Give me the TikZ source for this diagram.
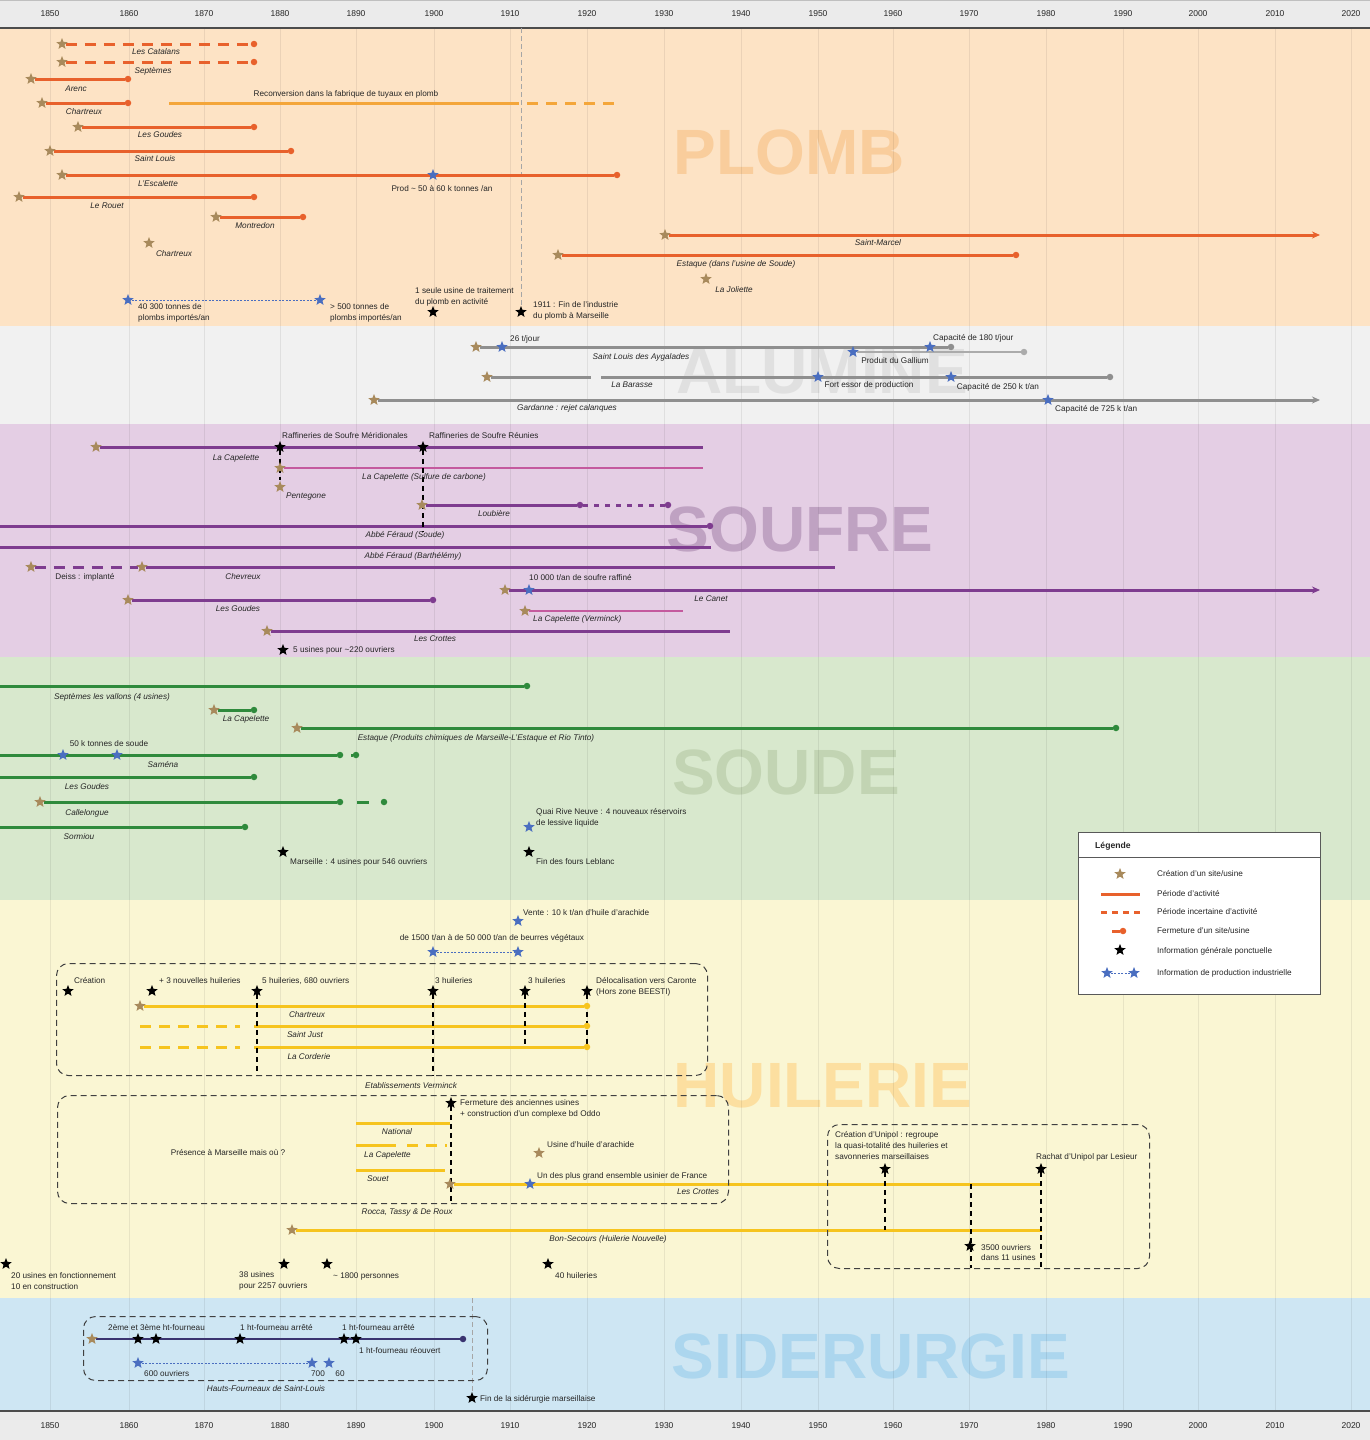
\documentclass[tikz,border=0pt]{standalone}
\usepackage{fontspec}
\setmainfont{Liberation Sans}
\usetikzlibrary{shapes.geometric,arrows.meta}
\pgfdeclarelayer{bg}\pgfdeclarelayer{lns}
\pgfsetlayers{bg,lns,main}
\definecolor{bgAx}{HTML}{EBEBEB}
\definecolor{bgPl}{HTML}{FDE3C5}
\definecolor{bgAl}{HTML}{F1F1F1}
\definecolor{bgSf}{HTML}{E4CEE4}
\definecolor{bgSd}{HTML}{D8E8CD}
\definecolor{bgHu}{HTML}{FAF6D3}
\definecolor{bgSi}{HTML}{CEE6F3}
\definecolor{wmPl}{HTML}{F9CD9C}
\definecolor{wmAl}{HTML}{E0E0E0}
\definecolor{wmSf}{HTML}{BFA2C2}
\definecolor{wmSd}{HTML}{C2D4B3}
\definecolor{wmHu}{HTML}{FCDFA0}
\definecolor{wmSi}{HTML}{ACD6EE}
\definecolor{cPl}{HTML}{E8612C}
\definecolor{cRe}{HTML}{F4A63A}
\definecolor{cAl}{HTML}{8F8F8F}
\definecolor{cAlb}{HTML}{ABABAB}
\definecolor{cSf}{HTML}{7E3C8F}
\definecolor{cPk}{HTML}{C45A9E}
\definecolor{cSd}{HTML}{2F8A3C}
\definecolor{cHu}{HTML}{F6C41E}
\definecolor{cSi}{HTML}{3A3470}
\definecolor{cStar}{HTML}{A88A5C}
\definecolor{cBlue}{HTML}{4A6EC0}
\begin{document}
\begin{tikzpicture}[x=1pt,y=-1pt,
 T/.style={font=\fontsize{8.2}{10.8}\selectfont, inner sep=0pt, text=black!85},
 I/.style={T, font=\fontsize{8.2}{10.8}\selectfont\itshape},
 stbase/.style={star, star points=5, star point ratio=2.3, minimum size=12pt, inner sep=0pt, draw=none},
 sC/.style={stbase, fill=cStar},
 sB/.style={stbase, fill=cBlue},
 sK/.style={stbase, fill=black},
 dotn/.style={circle, fill=#1, minimum size=6.5pt, inner sep=0pt},
 ln/.style={draw=#1, line width=3pt},
 dl/.style={draw=#1, line width=3pt, dash pattern=on 11pt off 8pt},
 dd/.style={draw=#1, line width=3pt, dash pattern=on 5pt off 6pt},
 bd/.style={draw=cBlue, line width=0.8pt, dash pattern=on 2pt off 1.5pt},
 gd/.style={draw=black!35, line width=0.6pt, dash pattern=on 5pt off 3pt},
 vd/.style={draw=black, line width=1.8pt, dash pattern=on 5pt off 4pt},
 dbox/.style={rectangle, draw=black!75, line width=1pt, dash pattern=on 6pt off 4pt, rounded corners=12pt, inner sep=0pt, anchor=north west},
 wm/.style={font=\fontsize{64}{64}\selectfont\bfseries, inner sep=0pt},
 ar/.style={-{Stealth[length=8pt,width=7pt]}}
]
\useasboundingbox (0,0) rectangle (1370,1440);
\begin{pgfonlayer}{bg}
\fill[bgAx] (0,0) rectangle (1370,28);
\fill[bgPl] (0,28) rectangle (1370,326);
\fill[bgAl] (0,326) rectangle (1370,424);
\fill[bgSf] (0,424) rectangle (1370,657);
\fill[bgSd] (0,657) rectangle (1370,900);
\fill[bgHu] (0,900) rectangle (1370,1298);
\fill[bgSi] (0,1298) rectangle (1370,1411);
\fill[bgAx] (0,1411) rectangle (1370,1440);
\node[wm,text=wmPl] (w1) at (789,152) {PLOMB};
\node[wm,text=wmAl] (w2) at (822,372) {ALUMINE};
\node[wm,text=wmSf] (w3) at (800,529) {SOUFRE};
\node[wm,text=wmSd] (w4) at (786,772) {SOUDE};
\node[wm,text=wmHu] (w5) at (823,1086) {HUILERIE};
\node[wm,text=wmSi] (w6) at (871,1356) {SIDERURGIE};
\foreach \x in {50,129,204,280,356,434,510,587,664,741,818,893,969,1046,1123,1198,1275,1351}
  \draw[black,opacity=0.07,line width=0.8pt] (\x,28) -- (\x,1411);
\draw[black!70,line width=1.4pt] (0,28) -- (1370,28);
\draw[black!70,line width=1.4pt] (0,1411) -- (1370,1411);
\draw[black!25,line width=0.8pt] (0,0.5) -- (1370,0.5);
\node[rectangle, draw=black!65, fill=white, line width=0.8pt, minimum width=242pt, minimum height=162pt, anchor=north west, inner sep=0pt] (leg) at (1078,832) {};
\end{pgfonlayer}
\foreach \yr/\x in {1850/50,1860/129,1870/204,1880/280,1890/356,1900/434,1910/510,1920/587,1930/664,1940/741,1950/818,1960/893,1970/969,1980/1046,1990/1123,2000/1198,2010/1275,2020/1351}{
  \node[T,font=\fontsize{8.5}{9}\selectfont] (ta\yr) at (\x,14) {\yr};
  \node[T,font=\fontsize{8.5}{9}\selectfont] (tb\yr) at (\x,1426) {\yr};
}
% ================= PLOMB
\node[sC] (p1) at (62,44) {};
\node[dotn=cPl] (p1e) at (254,44) {};
\node[I] (p1l) at (156,52) {Les Catalans};
\node[sC] (p2) at (62,62) {};
\node[dotn=cPl] (p2e) at (254,62) {};
\node[I] (p2l) at (153,71) {Septèmes};
\node[sC] (p3) at (31,79) {};
\node[dotn=cPl] (p3e) at (128,79) {};
\node[I] (p3l) at (76,89) {Arenc};
\node[sC] (p4) at (42,103) {};
\node[dotn=cPl] (p4e) at (128,103) {};
\node[I] (p4l) at (84,112) {Chartreux};
\coordinate (r1) at (169,103); \coordinate (r2) at (508,103); \coordinate (r3) at (616,103);
\node[T] (rl) at (346,94) {Reconversion dans la fabrique de tuyaux en plomb};
\node[sC] (p5) at (78,127) {};
\node[dotn=cPl] (p5e) at (254,127) {};
\node[I] (p5l) at (160,135) {Les Goudes};
\node[sC] (p6) at (50,151) {};
\node[dotn=cPl] (p6e) at (291,151) {};
\node[I] (p6l) at (155,159) {Saint Louis};
\node[sC] (p7) at (62,175) {};
\node[sB] (p7b) at (433,175) {};
\node[dotn=cPl] (p7e) at (617,175) {};
\node[I] (p7l) at (158,184) {L'Escalette};
\node[T] (p7t) at (442,189) {Prod \textasciitilde{} 50 à 60 k tonnes /an};
\node[sC] (p8) at (19,197) {};
\node[dotn=cPl] (p8e) at (254,197) {};
\node[I] (p8l) at (107,206) {Le Rouet};
\node[sC] (p9) at (216,217) {};
\node[dotn=cPl] (p9e) at (303,217) {};
\node[I] (p9l) at (255,226) {Montredon};
\node[sC] (p10) at (149,243) {};
\node[I] (p10l) at (174,254) {Chartreux};
\node[sC] (p11) at (665,235) {};
\coordinate (p11e) at (1320,235);
\node[I] (p11l) at (878,243) {Saint-Marcel};
\node[sC] (p12) at (558,255) {};
\node[dotn=cPl] (p12e) at (1016,255) {};
\node[I] (p12l) at (736,264) {Estaque (dans l'usine de Soude)};
\node[sC] (p13) at (706,279) {};
\node[I] (p13l) at (734,290) {La Joliette};
\node[sB] (p14) at (128,300) {};
\node[sB] (p15) at (320,300) {};
\node[T,anchor=west,align=left] (p14l) at (138,312.5) {40 300 tonnes de\\plombs importés/an};
\node[T,anchor=west,align=left] (p15l) at (330,312.5) {> 500 tonnes de\\plombs importés/an};
\node[sK] (p16) at (433,312) {};
\node[T,anchor=west,align=left] (p16l) at (415,297) {1 seule usine de traitement\\du plomb en activité};
\node[sK] (p17) at (521,312) {};
\coordinate (pv) at (521,28);
\node[T,anchor=west,align=left] (p17l) at (533,311) {1911 : Fin de l'industrie\\du plomb à Marseille};
% ================= ALUMINE
\node[sC] (a1) at (476,347) {};
\node[sB] (a1b) at (502,347) {};
\node[sB] (a1c) at (930,347) {};
\node[dotn=cAl] (a1e) at (951,347) {};
\node[T,anchor=west] (a1t) at (510,339) {26 t/jour};
\node[T,anchor=west] (a1u) at (933,338) {Capacité de 180 t/jour};
\node[I] (a1l) at (641,357) {Saint Louis des Aygalades};
\node[sB] (a2) at (853,352) {};
\node[dotn=cAlb] (a2e) at (1024,352) {};
\node[T] (a2l) at (895,361) {Produit du Gallium};
\node[sC] (a3) at (487,377) {};
\coordinate (a3m) at (591,377); \coordinate (a3n) at (601,377);
\node[sB] (a3b) at (818,377) {};
\node[sB] (a3c) at (951,377) {};
\node[dotn=cAl] (a3e) at (1110,377) {};
\node[I] (a3l) at (632,385) {La Barasse};
\node[T] (a3t) at (869,385) {Fort essor de production};
\node[T] (a3u) at (998,387) {Capacité de 250 k t/an};
\node[sC] (a4) at (374,400) {};
\node[sB] (a4b) at (1048,400) {};
\coordinate (a4e) at (1320,400);
\node[I] (a4l) at (567,408) {Gardanne : rejet calanques};
\node[T,anchor=west] (a4t) at (1055,409) {Capacité de 725 k t/an};
% ================= SOUFRE
\node[sC] (s1) at (96,447) {};
\node[sK] (s1a) at (280,447) {};
\node[sK] (s1b) at (423,447) {};
\coordinate (s1e) at (703,447);
\coordinate (s1v) at (423,532);
\node[T,anchor=west] (s1t) at (282,436) {Raffineries de Soufre Méridionales};
\node[T,anchor=west] (s1u) at (429,436) {Raffineries de Soufre Réunies};
\node[I] (s1l) at (236,458) {La Capelette};
\node[sC] (s2) at (280,468) {};
\coordinate (s2e) at (703,468);
\node[I] (s2l) at (424,477) {La Capelette (Sulfure de carbone)};
\node[sC] (s3) at (280,487) {};
\node[I] (s3l) at (306,497) {Pentegone};
\node[sC] (s4) at (422,505) {};
\node[dotn=cSf] (s4m) at (580,505) {};
\node[dotn=cSf] (s4e) at (668,505) {};
\node[I] (s4l) at (494,514) {Loubière};
\coordinate (s5a) at (0,526);
\node[dotn=cSf] (s5e) at (710,526) {};
\node[I] (s5l) at (405,535) {Abbé Féraud (Soude)};
\coordinate (s6a) at (0,547); \coordinate (s6e) at (711,547);
\node[I] (s6l) at (413,556) {Abbé Féraud (Barthélémy)};
\node[sC] (s7) at (31,567) {};
\node[sC] (s7b) at (142,567) {};
\coordinate (s7e) at (835,567);
\node[T] (s7l) at (85,577) {Deiss : implanté};
\node[I] (s7m) at (243,577) {Chevreux};
\node[sC] (s8) at (505,590) {};
\node[sB] (s8b) at (529,590) {};
\coordinate (s8e) at (1320,590);
\node[T,anchor=west] (s8t) at (529,578) {10 000 t/an de soufre raffiné};
\node[I] (s8l) at (711,599) {Le Canet};
\node[sC] (s9) at (128,600) {};
\node[dotn=cSf] (s9e) at (433,600) {};
\node[I] (s9l) at (238,609) {Les Goudes};
\node[sC] (s10) at (525,611) {};
\coordinate (s10e) at (683,611);
\node[I,anchor=west] (s10l) at (533,619) {La Capelette (Verminck)};
\node[sC] (s11) at (267,631) {};
\coordinate (s11e) at (730,631);
\node[I] (s11l) at (435,639) {Les Crottes};
\node[sK] (s12) at (283,650) {};
\node[T,anchor=west] (s12l) at (293,650) {5 usines pour \textasciitilde{}220 ouvriers};
% ================= SOUDE
\coordinate (d1a) at (0,686);
\node[dotn=cSd] (d1e) at (527,686) {};
\node[I] (d1l) at (112,697) {Septèmes les vallons (4 usines)};
\node[sC] (d2) at (214,710) {};
\node[dotn=cSd] (d2e) at (254,710) {};
\node[I] (d2l) at (246,719) {La Capelette};
\node[sC] (d3) at (297,728) {};
\node[dotn=cSd] (d3e) at (1116,728) {};
\node[I] (d3l) at (476,738) {Estaque (Produits chimiques de Marseille-L'Estaque et Rio Tinto)};
\coordinate (d4a) at (0,755);
\node[sB] (d4b) at (63,755) {};
\node[sB] (d4c) at (117,755) {};
\node[dotn=cSd] (d4e) at (340,755) {};
\coordinate (d4f) at (351,755);
\node[dotn=cSd] (d4g) at (356,755) {};
\node[T] (d4t) at (109,744) {50 k tonnes de soude};
\node[I] (d4l) at (163,765) {Saména};
\coordinate (d5a) at (0,777);
\node[dotn=cSd] (d5e) at (254,777) {};
\node[I] (d5l) at (87,787) {Les Goudes};
\node[sC] (d6) at (40,802) {};
\node[dotn=cSd] (d6e) at (340,802) {};
\coordinate (d6f) at (357,802); \coordinate (d6g) at (369,802);
\node[dotn=cSd] (d6h) at (384,802) {};
\node[I] (d6l) at (87,813) {Callelongue};
\coordinate (d7a) at (0,827);
\node[dotn=cSd] (d7e) at (245,827) {};
\node[I] (d7l) at (79,837) {Sormiou};
\node[sB] (d8) at (529,827) {};
\node[T,anchor=west,align=left] (d8l) at (536,817.5) {Quai Rive Neuve : 4 nouveaux réservoirs\\de lessive liquide};
\node[sK] (d9) at (283,852) {};
\node[T,anchor=west] (d9l) at (290,862) {Marseille : 4 usines pour 546 ouvriers};
\node[sK] (d10) at (529,852) {};
\node[T,anchor=west] (d10l) at (536,862) {Fin des fours Leblanc};
% ================= LEGENDE
\coordinate (lga) at (1078,857); \coordinate (lgb) at (1320,857);
\node[T,font=\fontsize{8.6}{9}\selectfont\bfseries,anchor=west] (legt) at (1095,846) {Légende};
\node[sC] (lg1) at (1120,874) {};
\coordinate (lg2a) at (1101,894); \coordinate (lg2b) at (1140,894);
\coordinate (lg3a) at (1101,912); \coordinate (lg3b) at (1140,912);
\coordinate (lg4a) at (1112,931);
\node[dotn=cPl] (lg4) at (1123,931) {};
\node[sK] (lg5) at (1120,950) {};
\node[sB] (lg6a) at (1107,973) {};
\node[sB] (lg6b) at (1134,973) {};
\node[T,anchor=west] (lt1) at (1157,874) {Création d'un site/usine};
\node[T,anchor=west] (lt2) at (1157,894) {Période d'activité};
\node[T,anchor=west] (lt3) at (1157,912) {Période incertaine d'activité};
\node[T,anchor=west] (lt4) at (1157,931) {Fermeture d'un site/usine};
\node[T,anchor=west] (lt5) at (1157,951) {Information générale ponctuelle};
\node[T,anchor=west] (lt6) at (1157,973) {Information de production industrielle};
% ================= HUILERIE
\node[sB] (h1) at (518,921) {};
\node[T,anchor=west] (h1l) at (523,913) {Vente : 10 k t/an d'huile d'arachide};
\node[sB] (h2) at (433,952) {};
\node[sB] (h2b) at (518,952) {};
\node[T] (h2l) at (492,938) {de 1500 t/an à de 50 000 t/an de beurres végétaux};
\node[dbox, minimum width=651pt, minimum height=112pt] (hb1) at (56,963) {};
\node[I] (hb1l) at (411,1086) {Etablissements Verminck};
\node[sK] (h3) at (68,991) {};
\node[sK] (h4) at (152,991) {};
\node[sK] (h5) at (257,991) {};
\node[sK] (h6) at (433,991) {};
\node[sK] (h7) at (525,991) {};
\node[sK] (h8) at (587,991) {};
\coordinate (h5v) at (257,1075); \coordinate (h6v) at (433,1075); \coordinate (h7v) at (525,1046);
\node[T,anchor=west] (h3l) at (74,981) {Création};
\node[T,anchor=west] (h4l) at (159,981) {+ 3 nouvelles huileries};
\node[T,anchor=west] (h5l) at (262,981) {5 huileries, 680 ouvriers};
\node[T,anchor=west] (h6l) at (435,981) {3 huileries};
\node[T,anchor=west] (h7l) at (528,981) {3 huileries};
\node[T,anchor=west,align=left] (h8l) at (596,987) {Délocalisation vers Caronte\\(Hors zone BEESTI)};
\node[sC] (h9) at (140,1006) {};
\node[dotn=cHu] (h9e) at (587,1006) {};
\node[I] (h9l) at (307,1015) {Chartreux};
\coordinate (h10a) at (140,1026); \coordinate (h10b) at (240,1026); \coordinate (h10c) at (254,1026);
\node[dotn=cHu] (h10e) at (587,1026) {};
\node[I] (h10l) at (305,1035) {Saint Just};
\coordinate (h11a) at (140,1047); \coordinate (h11b) at (240,1047); \coordinate (h11c) at (254,1047);
\node[dotn=cHu] (h11e) at (587,1047) {};
\node[I] (h11l) at (309,1057) {La Corderie};
\node[dbox, minimum width=671pt, minimum height=108pt] (hb2) at (57,1095) {};
\node[I] (hb2l) at (407,1212) {Rocca, Tassy \& De Roux};
\node[T] (h12) at (228,1153) {Présence à Marseille mais où ?};
\coordinate (h13a) at (356,1123); \coordinate (h13b) at (450,1123);
\node[I] (h13l) at (397,1132) {National};
\coordinate (h14a) at (356,1145); \coordinate (h14b) at (396,1145); \coordinate (h14c) at (407,1145); \coordinate (h14d) at (447,1145);
\node[I,anchor=west] (h14l) at (364,1155) {La Capelette};
\coordinate (h15a) at (356,1170); \coordinate (h15b) at (445,1170);
\node[I,anchor=west] (h15l) at (367,1179) {Souet};
\node[sK] (h16) at (451,1103) {};
\coordinate (h16v) at (451,1203);
\node[T,anchor=west,align=left] (h16l) at (460,1108.5) {Fermeture des anciennes usines\\+ construction d'un complexe bd Oddo};
\node[sC] (h17) at (539,1153) {};
\node[T,anchor=west] (h17l) at (547,1145) {Usine d'huile d'arachide};
\node[sC] (h18) at (450,1184) {};
\node[sB] (h18b) at (530,1184) {};
\coordinate (h18e) at (1042,1184);
\node[T,anchor=west] (h18t) at (537,1176) {Un des plus grand ensemble usinier de France};
\node[I] (h18l) at (698,1192) {Les Crottes};
\node[sC] (h19) at (292,1230) {};
\coordinate (h19e) at (1042,1230);
\node[I] (h19l) at (608,1239) {Bon-Secours (Huilerie Nouvelle)};
\node[dbox, minimum width=322pt, minimum height=144pt] (hb3) at (827,1124) {};
\node[T,anchor=west,align=left] (h20l) at (835,1145.5) {Création d'Unipol : regroupe\\la quasi-totalité des huileries et\\savonneries marseillaises};
\node[sK] (h20) at (885,1169) {};
\coordinate (h20v) at (885,1230);
\node[T,anchor=west] (h21l) at (1036,1157) {Rachat d'Unipol par Lesieur};
\node[sK] (h21) at (1041,1169) {};
\coordinate (h21v) at (1041,1268);
\coordinate (h22a) at (971,1184); \coordinate (h22b) at (971,1268);
\node[sK] (h22) at (970,1246) {};
\node[T,anchor=west,align=left] (h22l) at (981,1252.5) {3500 ouvriers\\dans 11 usines};
\node[sK] (h23) at (6,1264) {};
\node[sK] (h24) at (284,1264) {};
\node[sK] (h25) at (327,1264) {};
\node[sK] (h26) at (548,1264) {};
\node[T,anchor=west,align=left] (h23l) at (11,1281) {20 usines en fonctionnement\\10 en construction};
\node[T,anchor=west,align=left] (h24l) at (239,1281) {38 usines\\pour 2257 ouvriers};
\node[T,anchor=west] (h25l) at (333,1276) {\textasciitilde{} 1800 personnes};
\node[T,anchor=west] (h26l) at (555,1276) {40 huileries};
% ================= SIDERURGIE
\node[dbox, minimum width=404pt, minimum height=64pt] (sb) at (83,1316) {};
\node[I] (sbl) at (266,1389) {Hauts-Fourneaux de Saint-Louis};
\node[sC] (g1) at (92,1339) {};
\node[sK] (g2) at (138,1339) {};
\node[sK] (g3) at (156,1339) {};
\node[sK] (g4) at (240,1339) {};
\node[sK] (g5) at (344,1339) {};
\node[sK] (g6) at (356,1339) {};
\node[dotn=cSi] (g7) at (463,1339) {};
\node[T,anchor=west] (g2l) at (108,1328) {2ème et 3ème ht-fourneau};
\node[T,anchor=west] (g4l) at (240,1328) {1 ht-fourneau arrêté};
\node[T,anchor=west] (g5l) at (342,1328) {1 ht-fourneau arrêté};
\node[T,anchor=west] (g6l) at (359,1351) {1 ht-fourneau réouvert};
\node[sB] (g8) at (138,1363) {};
\node[sB] (g9) at (312,1363) {};
\node[sB] (g10) at (329,1363) {};
\node[T,anchor=west] (g8l) at (144,1374) {600 ouvriers};
\node[T] (g9l) at (318,1374) {700};
\node[T] (g10l) at (340,1374) {60};
\coordinate (gv) at (472,1298);
\node[sK] (g11) at (472,1398) {};
\node[T,anchor=west] (g11l) at (480,1399) {Fin de la sidérurgie marseillaise};
% ================= LINES
\begin{pgfonlayer}{lns}
\draw[gd] (pv) -- (p17);
\draw[gd] (gv) -- (g11);
\draw[dl=cPl] (p1) -- (p1e);
\draw[dl=cPl] (p2) -- (p2e);
\draw[ln=cPl] (p3) -- (p3e);
\draw[ln=cPl] (p4) -- (p4e);
\draw[ln=cRe] (r1) -- (r2);
\draw[dl=cRe] (r2) -- (r3);
\draw[ln=cPl] (p5) -- (p5e);
\draw[ln=cPl] (p6) -- (p6e);
\draw[ln=cPl] (p7) -- (p7e);
\draw[ln=cPl] (p8) -- (p8e);
\draw[ln=cPl] (p9) -- (p9e);
\draw[ln=cPl,ar] (p11) -- (p11e);
\draw[ln=cPl] (p12) -- (p12e);
\draw[bd] (p14) -- (p15);
\draw[ln=cAl] (a1) -- (a1e);
\draw[draw=cAlb,line width=2pt] (a2) -- (a2e);
\draw[ln=cAl] (a3) -- (a3m);
\draw[ln=cAl] (a3n) -- (a3e);
\draw[ln=cAl,ar] (a4) -- (a4e);
\draw[ln=cSf] (s1) -- (s1e);
\draw[draw=cPk,line width=2pt] (s2) -- (s2e);
\draw[ln=cSf] (s4) -- (s4m);
\draw[dd=cSf] (s4m) -- (s4e);
\draw[ln=cSf] (s5a) -- (s5e);
\draw[ln=cSf] (s6a) -- (s6e);
\draw[dl=cSf] (s7) -- (s7b);
\draw[ln=cSf] (s7b) -- (s7e);
\draw[ln=cSf,ar] (s8) -- (s8e);
\draw[ln=cSf] (s9) -- (s9e);
\draw[draw=cPk,line width=2pt] (s10) -- (s10e);
\draw[ln=cSf] (s11) -- (s11e);
\draw[vd] (s1a) -- (s3);
\draw[vd] (s1b) -- (s1v);
\draw[ln=cSd] (d1a) -- (d1e);
\draw[ln=cSd] (d2) -- (d2e);
\draw[ln=cSd] (d3) -- (d3e);
\draw[ln=cSd] (d4a) -- (d4e);
\draw[ln=cSd] (d4f) -- (d4g);
\draw[ln=cSd] (d5a) -- (d5e);
\draw[ln=cSd] (d6) -- (d6e);
\draw[ln=cSd] (d6f) -- (d6g);
\draw[ln=cSd] (d7a) -- (d7e);
\draw[black!65,line width=0.8pt] (lga) -- (lgb);
\draw[ln=cPl] (lg2a) -- (lg2b);
\draw[draw=cPl,line width=3pt,dash pattern=on 6pt off 5pt] (lg3a) -- (lg3b);
\draw[ln=cPl] (lg4a) -- (lg4);
\draw[bd] (lg6a) -- (lg6b);
\draw[bd] (h2) -- (h2b);
\draw[ln=cHu] (h9) -- (h9e);
\draw[dl=cHu] (h10a) -- (h10b);
\draw[ln=cHu] (h10c) -- (h10e);
\draw[dl=cHu] (h11a) -- (h11b);
\draw[ln=cHu] (h11c) -- (h11e);
\draw[ln=cHu] (h13a) -- (h13b);
\draw[ln=cHu] (h14a) -- (h14b);
\draw[dl=cHu] (h14c) -- (h14d);
\draw[ln=cHu] (h15a) -- (h15b);
\draw[ln=cHu] (h18) -- (h18e);
\draw[ln=cHu] (h19) -- (h19e);
\draw[vd] (h5) -- (h5v);
\draw[vd] (h6) -- (h6v);
\draw[vd] (h7) -- (h7v);
\draw[vd] (h8) -- (h11e);
\draw[vd] (h16) -- (h16v);
\draw[vd] (h20) -- (h20v);
\draw[vd] (h21) -- (h21v);
\draw[vd] (h22a) -- (h22b);
\draw[draw=cSi,line width=2.2pt] (g1) -- (g7);
\draw[bd] (g8) -- (g9);
\end{pgfonlayer}
\end{tikzpicture}
\end{document}
